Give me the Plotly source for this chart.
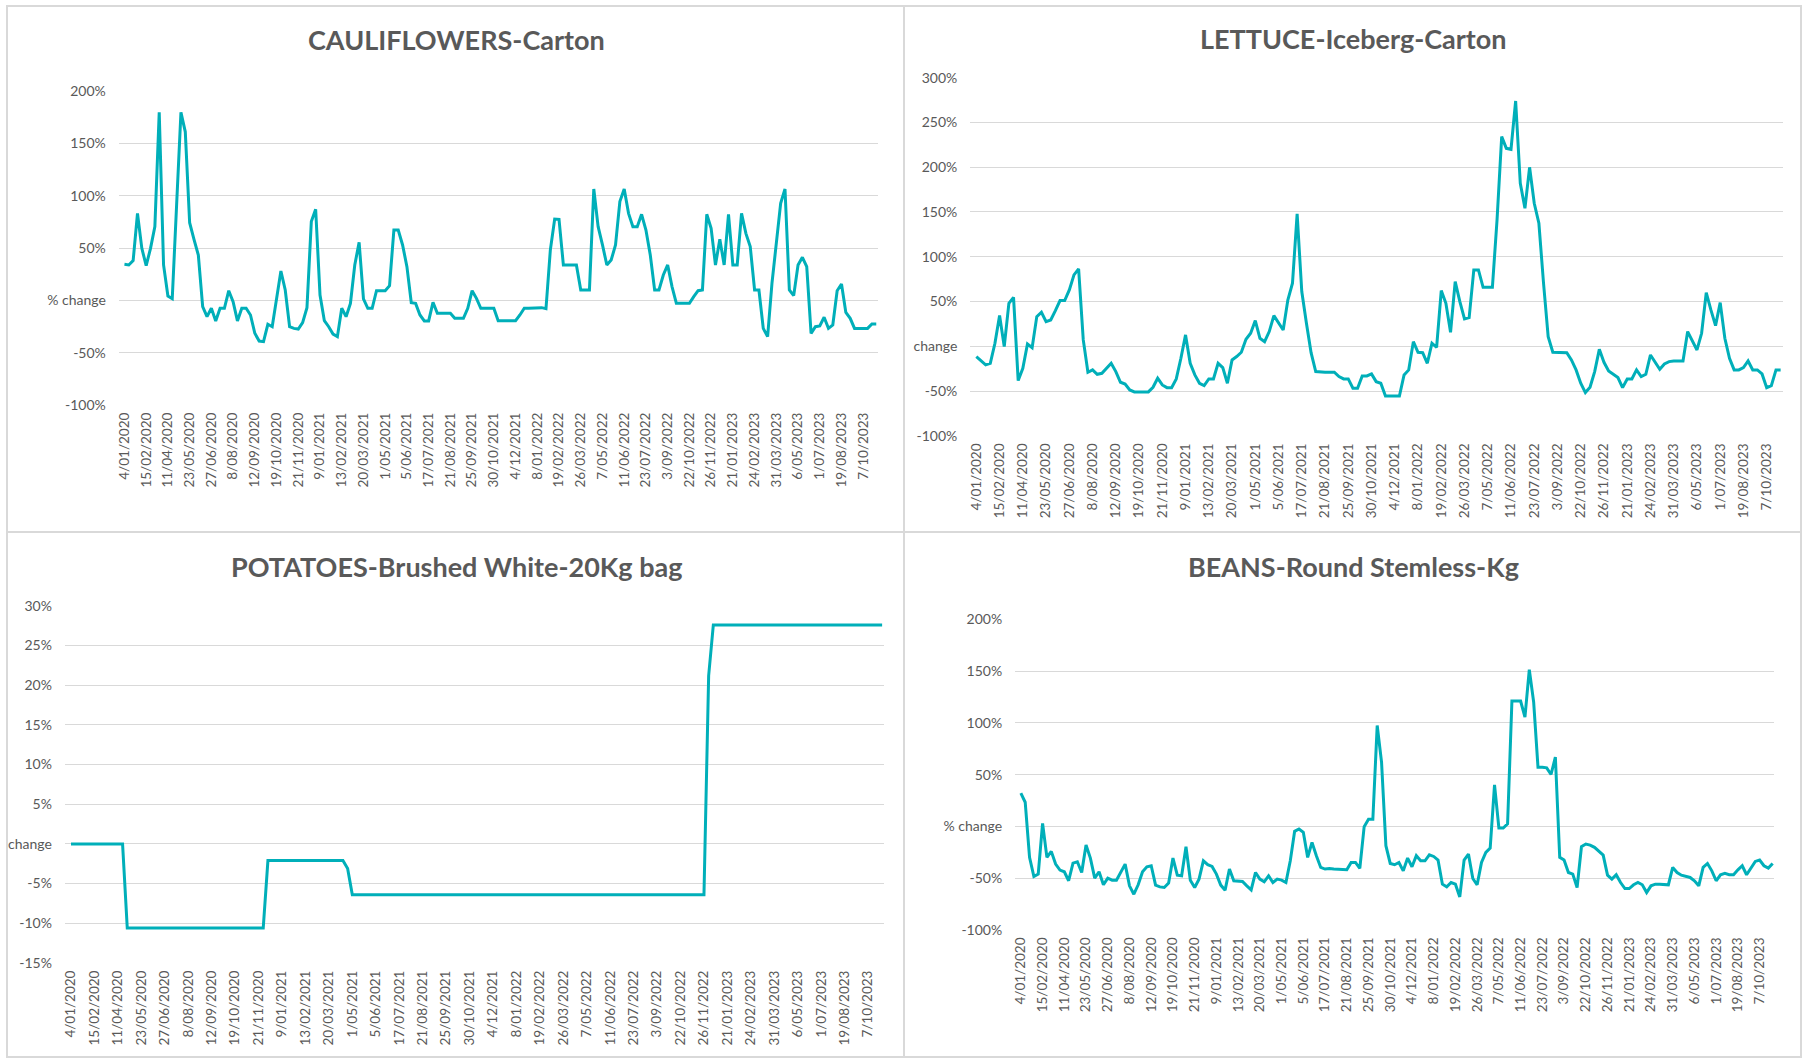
import plotly.graph_objects as go

# ---------------- data ----------------
x_labels = ["4/01/2020", "15/02/2020", "11/04/2020", "23/05/2020", "27/06/2020", "8/08/2020",
            "12/09/2020", "19/10/2020", "21/11/2020", "9/01/2021", "13/02/2021", "20/03/2021",
            "1/05/2021", "5/06/2021", "17/07/2021", "21/08/2021", "25/09/2021", "30/10/2021",
            "4/12/2021", "8/01/2022", "19/02/2022", "26/03/2022", "7/05/2022", "11/06/2022",
            "23/07/2022", "3/09/2022", "22/10/2022", "26/11/2022", "21/01/2023", "24/02/2023",
            "31/03/2023", "6/05/2023", "1/07/2023", "19/08/2023", "7/10/2023"]
label_every = 5

cauliflower = [34.4, 33.8, 37.9, 83.1, 49.7, 33.1, 49.7, 70.4, 179.6, 33.8,
               4.1, 1.6, 91, 179.6, 161, 74.2, 58.3, 43.3, -6, -15.6,
               -7.6, -19.7, -7.6, -7.6, 9.2, -1.3, -19.7, -7.6, -7.6, -14,
               -31.5, -38.9, -39.5, -22.9, -25.2, 3.5, 28, 9.9, -25.2, -26.8,
               -27.4, -21.3, -7, 75.2, 87, 5.1, -19.4, -25.2, -32.2, -34.7,
               -7.6, -15.6, -2.9, 33.8, 55.4, 1.3, -7.6, -7.6, 9.2, 9.2,
               9.2, 14, 67.2, 67.2, 52.9, 32.2, -2.2, -2.9, -14, -19.7,
               -19.7, -1.9, -12.4, -12.4, -12.4, -12.4, -17.2, -17.2, -17.2, -7.6,
               9.2, 1.9, -7.6, -7.6, -7.6, -7.6, -19.4, -19.4, -19.4, -19.4,
               -19.4, -14, -7.6, -7.6, -7.6, -7, -7, -8, 48, 77.7,
               77.4, 33.8, 33.8, 33.8, 33.8, 9.9, 9.9, 9.9, 106.4, 70.4,
               52.9, 33.8, 38.5, 52.9, 94.3, 106.4, 83.1, 70.4, 70.4, 82.2,
               67.2, 43.3, 9.9, 9.9, 24.2, 33.8, 13.1, -2.9, -2.9, -2.9,
               -2.9, 3.5, 9.2, 9.9, 82.2, 68.8, 33.8, 58.3, 33.8, 82.2,
               33.8, 33.8, 83.1, 64, 51.3, 9.9, 9.9, -26.8, -34.7, 16.2,
               54.5, 92.7, 106.4, 9.9, 4.5, 33.8, 41.1, 32.2, -31.5, -25.2,
               -24.5, -16.2, -26.8, -23.6, 9.2, 15.6, -11.5, -17.2, -26.8, -26.8,
               -26.8, -26.8, -22.6, -22.6]

lettuce = [-11.5, -16, -20.8, -19, 3.4, 34.3, -0.4, 48, 54.7, -38.3,
           -24.6, 2.6, -1.5, 33.1, 38, 27.6, 29.4, 39.8, 51, 51,
           62.9, 79.7, 86.4, 7.1, -29, -26.4, -31.3, -30.2, -24.6, -19,
           -28.3, -40.2, -42.1, -48.8, -51, -51, -51, -51, -45.8, -35.7,
           -43.2, -46.2, -46.2, -36.5, -13.4, 12.7, -19, -32, -41.3, -43.9,
           -36.5, -36.5, -19, -23.8, -41.3, -15.3, -11.5, -6.7, 7.8, 14.5,
           28.7, 8.9, 5.2, 16.4, 34.3, 26.8, 18.2, 51.7, 70.4, 147.8,
           61.1, 25.7, -7.1, -28.3, -29, -29, -29, -29, -33.9, -36.5,
           -36.5, -46.9, -46.9, -33.1, -33.1, -30.9, -39.5, -41.3, -55.5, -55.5,
           -55.5, -55.5, -32, -26.4, 5.2, -6.7, -7.1, -19, 3.4, -1.1,
           62.2, 48, 15.6, 72.2, 49.9, 30.5, 32, 85.3, 85.3, 65.9,
           65.9, 65.9, 141.1, 234.2, 221.1, 220, 274, 182, 154.1, 199.9,
           159.7, 137.4, 70.4, 10.8, -6.7, -6.7, -6.7, -7.1, -15.3, -26.4,
           -41.3, -51.7, -45.8, -28.3, -3.4, -17.9, -27.6, -31.3, -35, -46.2,
           -36.5, -36.5, -26.4, -33.9, -31.3, -9.7, -17.9, -25.7, -19.7, -17.1,
           -16.4, -16.4, -16.4, 16.4, 5.2, -4.1, 14.5, 59.9, 40.6, 23.1,
           48.8, 8.9, -13.4, -26.4, -26.4, -23.8, -16.4, -26.4, -26.4, -30.9,
           -46.2, -43.9, -26.4, -26.4]

potatoes = ([0.0] * 12 + [-10.6] * 30 + [-2.1] * 17 + [-3.1] + [-6.4] * 76
            + [21.2] + [27.6] * 37)

beans = [32, 23.3, -30, -48.5, -46.2, 2.9, -30, -24.2, -36.5, -42.3,
         -43.9, -52.6, -35.5, -34.2, -44.6, -18.1, -30.7, -50.1, -43.9, -56.5,
         -50.1, -52, -52, -43.6, -36.5, -57.5, -65.6, -56.5, -43.9, -39.1,
         -38.1, -56.8, -58.5, -59.1, -54.9, -30.7, -47.2, -47.8, -19.7, -52,
         -59.1, -51, -33.3, -37.1, -38.8, -46.2, -56.8, -61.7, -41.3, -52.6,
         -52.6, -53.3, -57.5, -61.4, -44.6, -51, -53.6, -47.8, -54.3, -51,
         -52, -54.3, -33.3, -4.8, -2.6, -5.8, -30, -15.5, -28.4, -39.7,
         -41.3, -40.7, -41.3, -41.3, -42, -42, -34.9, -34.9, -40.7, -0.3,
         6.8, 6.8, 97.5, 62, -18.7, -35.9, -37.1, -34.9, -43, -30.7,
         -39.1, -28.4, -33.3, -33.3, -27.5, -29.1, -32.6, -55.9, -58.5, -54.3,
         -55.9, -68.2, -32.6, -26.8, -50.4, -56.5, -34.9, -25.2, -21, 40,
         -1.6, -1.6, 2.3, 121.1, 121.1, 121.1, 105.6, 151.5, 120.2, 57.2,
         57.2, 56.5, 50.1, 66.9, -30, -32.6, -44.6, -46.2, -59.1, -19.7,
         -17.1, -18.1, -20.3, -24.2, -27.8, -47.2, -51, -46.8, -54.3, -60.1,
         -60.1, -56.5, -54.3, -56.5, -64, -57.5, -55.9, -55.9, -56.5, -56.5,
         -39.7, -44.6, -47.2, -48.5, -49.4, -52.6, -57.5, -39.7, -35.9, -43,
         -52.6, -46.8, -45.5, -46.8, -46.8, -42, -38.1, -46.8, -39.7, -33.9,
         -32.6, -38.1, -40.4, -35.9]

titles = ["CAULIFLOWERS-Carton", "LETTUCE-Iceberg-Carton",
          "POTATOES-Brushed White-20Kg bag", "BEANS-Round Stemless-Kg"]

cauli_ticks = [-100, -50, 0, 50, 100, 150, 200]
lettuce_ticks = [-100, -50, 0, 50, 100, 150, 200, 250, 300]
potato_ticks = [-15, -10, -5, 0, 5, 10, 15, 20, 25, 30]
beans_ticks = [-100, -50, 0, 50, 100, 150, 200]
zero_labels = ["% change", "change", "change", "% change"]

# ---------------- layout helpers ----------------
W, H = 1803, 1059
LINE = "#00AFB9"
GRID = "#d9d9d9"
TXT = "#595959"
FONT = "Lato"


def fx(px):
    return px / W


def fy(py):
    return 1 - py / H


panels = [
    dict(data=cauliflower, ticks=cauli_ticks, xd=(118.8, 878.0), yd=(91.0, 405.0), tpos=(456, 40)),
    dict(data=lettuce, ticks=lettuce_ticks, xd=(970.3, 1782.5), yd=(77.7, 435.8), tpos=(1353, 39)),
    dict(data=potatoes, ticks=potato_ticks, xd=(64.9, 884.0), yd=(605.9, 962.9), tpos=(456, 566)),
    dict(data=beans, ticks=beans_ticks, xd=(1015.2, 1774.4), yd=(619.4, 929.8), tpos=(1353, 566)),
]

fig = go.Figure()
layout = dict(
    width=W, height=H, margin=dict(l=0, r=0, t=0, b=0, pad=0), autosize=False,
    paper_bgcolor="white", plot_bgcolor="white", showlegend=False,
    font=dict(family=FONT, color=TXT),
    annotations=[], shapes=[],
)

for i, p in enumerate(panels):
    n = len(p["data"])
    xs = list(range(n))
    sfx = "" if i == 0 else str(i + 1)
    fig.add_trace(go.Scatter(x=xs, y=p["data"], mode="lines",
                             line=dict(color=LINE, width=3),
                             xaxis="x" + sfx, yaxis="y" + sfx, hoverinfo="skip"))
    tickvals_x = [k * label_every for k in range(len(x_labels))]
    layout["xaxis" + sfx] = dict(
        domain=[fx(p["xd"][0]), fx(p["xd"][1])], anchor="y" + sfx, automargin=False,
        range=[-1.3, n - 1 + 0.4], showgrid=False, zeroline=False, showline=False,
        tickmode="array", tickvals=tickvals_x, ticktext=x_labels, tickangle=-90,
        tickfont=dict(family=FONT, size=13.5, color=TXT), ticks="", ticklabelstandoff=4,
    )
    tt = [zero_labels[i] if v == 0 else f"{v}%" for v in p["ticks"]]
    layout["yaxis" + sfx] = dict(
        domain=[fy(p["yd"][1]), fy(p["yd"][0])], anchor="x" + sfx, automargin=False,
        range=[p["ticks"][0], p["ticks"][-1]], showgrid=True, gridcolor=GRID, gridwidth=1.3,
        zeroline=False, showline=False, tickmode="array", tickvals=p["ticks"], ticktext=tt,
        tickfont=dict(family=FONT, size=14, color=TXT), ticks="", ticklabelstandoff=12,
    )
    layout["annotations"].append(dict(
        text="<b>" + titles[i] + "</b>", xref="paper", yref="paper",
        x=fx(p["tpos"][0]), y=fy(p["tpos"][1]), xanchor="center", yanchor="middle",
        showarrow=False, font=dict(family=FONT, size=27, color=TXT)))

# panel borders
bc = dict(color="#d9d9d9", width=2)
layout["shapes"] += [
    dict(type="rect", xref="paper", yref="paper", x0=fx(7), x1=fx(1801), y0=fy(1057), y1=fy(6), line=bc),
    dict(type="line", xref="paper", yref="paper", x0=fx(904), x1=fx(904), y0=fy(1057), y1=fy(6), line=bc),
    dict(type="line", xref="paper", yref="paper", x0=fx(7), x1=fx(1801), y0=fy(532), y1=fy(532), line=bc),
]

fig.update_layout(**layout)
fig.write_html("out.html", config={"displayModeBar": False},
               post_script="document.body.style.margin='0';document.body.style.overflow='hidden';")
